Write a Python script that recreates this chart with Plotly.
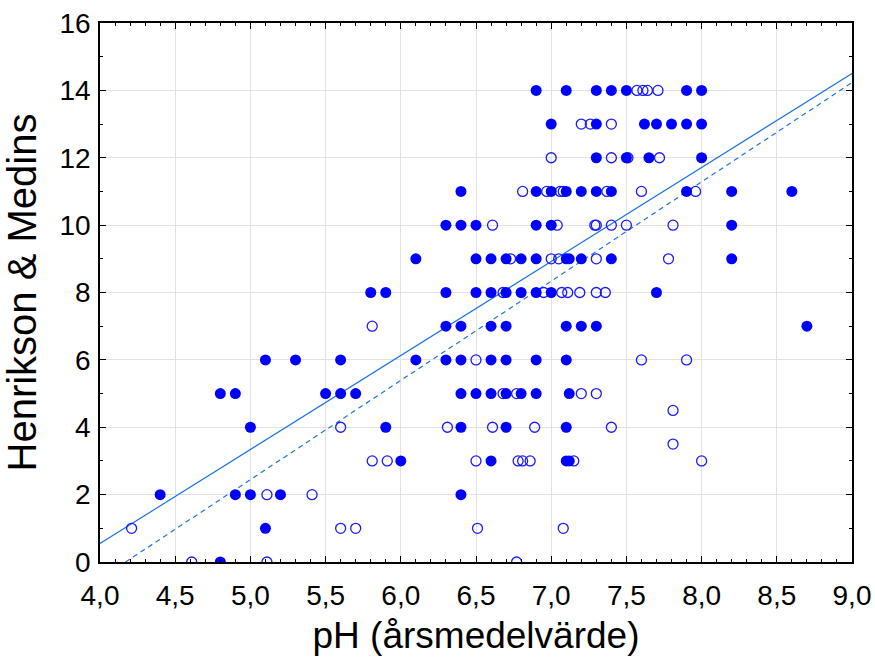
import plotly.graph_objects as go

# Filled circles (group A)
filled_x = [6.9, 7.1, 7.3, 7.4, 7.5, 7.9, 8.0,
            7.0, 7.3, 7.62, 7.7, 7.8, 7.9, 8.0,
            7.3, 7.5, 7.65, 8.0,
            6.4, 6.9, 7.0, 7.1, 7.2, 7.3, 7.4, 7.9, 8.2, 8.6,
            6.3, 6.4, 6.5, 6.9, 7.0, 8.2,
            6.1, 6.5, 6.6, 6.7, 6.8, 6.9, 7.1, 7.12, 7.2, 7.4, 8.2,
            5.8, 5.9, 6.3, 6.5, 6.6, 6.7, 6.8, 6.9, 7.0, 7.7,
            6.3, 6.4, 6.6, 6.7, 7.1, 7.2, 7.3, 8.7,
            5.1, 5.3, 5.6, 6.1, 6.3, 6.4, 6.6, 6.7, 6.9, 7.1,
            4.8, 4.9, 5.5, 5.6, 5.7, 6.4, 6.5, 6.6, 6.7, 6.8, 6.9, 7.12,
            5.0, 5.9, 6.4, 6.7, 7.1,
            6.0, 6.6, 7.1, 7.12,
            4.4, 4.9, 5.0, 5.2, 6.4,
            5.1,
            4.8]
filled_y = [14] * 7 + [13] * 7 + [12] * 4 + [11] * 10 + [10] * 6 + [9] * 11 + \
           [8] * 10 + [7] * 8 + [6] * 10 + [5] * 12 + [4] * 5 + [3] * 4 + \
           [2] * 5 + [1] * 1 + [0] * 1

# Open circles (group B)
open_x = [7.57, 7.61, 7.64, 7.71,
          7.2, 7.26, 7.4,
          7.0, 7.4, 7.51, 7.72,
          6.81, 6.97, 7.06, 7.08, 7.37, 7.6, 7.96,
          6.61, 7.04, 7.29, 7.3, 7.4, 7.5, 7.81,
          6.73, 7.0, 7.05, 7.3, 7.78,
          6.68, 6.95, 7.07, 7.11, 7.19, 7.3, 7.36,
          5.81,
          6.5, 7.6, 7.9,
          6.68, 6.77, 7.2, 7.3,
          7.81,
          5.6, 6.31, 6.61, 6.89, 7.4,
          7.81,
          5.81, 5.91, 6.5, 6.78, 6.81, 6.86, 7.15, 8.0,
          5.11, 5.41,
          4.21, 5.6, 5.7, 6.51, 7.08,
          4.61, 5.11, 6.77]
open_y = [14] * 4 + [13] * 3 + [12] * 4 + [11] * 7 + [10] * 7 + [9] * 5 + \
         [8] * 7 + [7] * 1 + [6] * 3 + [5] * 4 + [4.5] + [4] * 5 + [3.5] + \
         [3] * 8 + [2] * 2 + [1] * 5 + [0] * 3

# Regression lines (endpoints)
solid_x = [4.0, 9.0]
solid_y = [0.55, 14.5]
dashed_x = [4.17, 9.0]
dashed_y = [0.0, 14.23]

line_color = "rgb(30,115,230)"

fig = go.Figure()
fig.add_trace(go.Scatter(x=solid_x, y=solid_y, mode="lines",
                         line=dict(color=line_color, width=1.2), showlegend=False))
fig.add_trace(go.Scatter(x=dashed_x, y=dashed_y, mode="lines",
                         line=dict(color=line_color, width=1.2, dash="5px,4px"),
                         showlegend=False))
fig.add_trace(go.Scatter(x=open_x, y=open_y, mode="markers",
                         marker=dict(symbol="circle-open", size=10, color="#1a1aff",
                                     line=dict(width=1.3, color="#1a1aff")),
                         showlegend=False))
fig.add_trace(go.Scatter(x=filled_x, y=filled_y, mode="markers",
                         marker=dict(symbol="circle", size=11, color="#0000ff",
                                     line=dict(width=0)),
                         showlegend=False))

axis_common = dict(
    showline=True, linecolor="black", linewidth=1.5, mirror="ticks",
    ticks="inside", ticklen=6, tickwidth=1.2, tickcolor="black",
    showgrid=True, gridcolor="#e2e2e2", gridwidth=1.2, zeroline=False,
    automargin=False,
    tickfont=dict(family="Liberation Sans, Arial", size=28, color="black"),
)

fig.update_xaxes(range=[4, 9], dtick=0.5, tick0=4, tickformat=".1f",
                 ticklabelstandoff=8,
                 minor=dict(dtick=0.1, ticks="inside", ticklen=3, tickcolor="black",
                            showgrid=False),
                 title=dict(text="pH (årsmedelvärde)", standoff=12,
                            font=dict(family="Liberation Sans, Arial", size=37, color="black")),
                 **axis_common)
fig.update_yaxes(range=[0, 16], dtick=2, tick0=0,
                 ticklabelstandoff=2,
                 minor=dict(dtick=1, ticks="inside", ticklen=3, tickcolor="black",
                            showgrid=False),
                 title=dict(text="Henrikson &amp; Medins", standoff=10,
                            font=dict(family="Liberation Sans, Arial", size=40, color="black")),
                 **axis_common)

fig.update_layout(
    width=875, height=659,
    margin=dict(l=100, r=23, t=23, b=97),
    paper_bgcolor="white", plot_bgcolor="white",
    separators=", ",
    font=dict(family="Liberation Sans, Arial", color="black"),
)

fig.write_html("out.html")
